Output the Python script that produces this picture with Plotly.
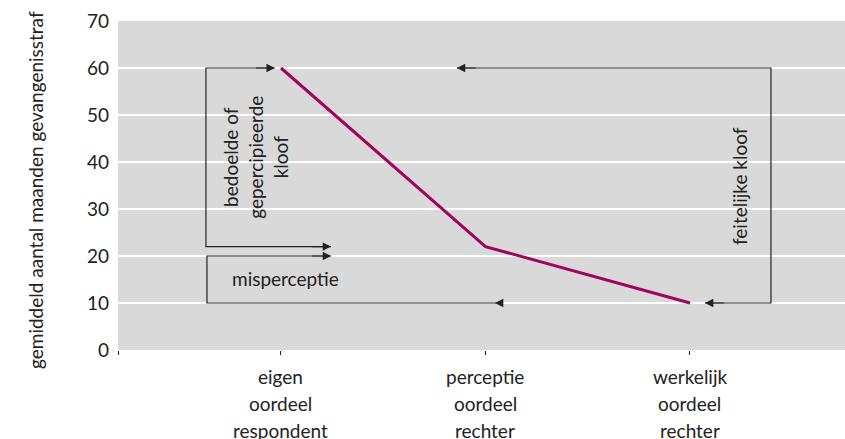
import plotly.graph_objects as go

# ---- data ----
category_lines = [["eigen", "oordeel", "respondent"],
                  ["perceptie", "oordeel", "rechter"],
                  ["werkelijk", "oordeel", "rechter"]]
values = [60, 22, 10]
y_ticks = [0, 10, 20, 30, 40, 50, 60, 70]
y_title = "gemiddeld aantal maanden gevangenisstraf"
label_bedoeld = "bedoelde of<br>gepercipieerde<br>kloof"
label_mis = "misperceptie"
label_feit = "feitelijke kloof"

# bracket polylines (data coords)
bracket_bedoeld_x = [-0.03, -0.367, -0.367, 0.245]
bracket_bedoeld_y = [60, 60, 22, 22]
bracket_mis_x = [0.245, -0.362, -0.362, 1.076]
bracket_mis_y = [20, 20, 10, 10]
bracket_feit_x = [0.86, 2.396, 2.396, 2.073]
bracket_feit_y = [60, 60, 10, 10]

FONT = "Lato"
INK = "#222222"
LINE = "#a0045f"

x_idx = list(range(len(values)))

fig = go.Figure()
fig.add_trace(go.Scatter(x=x_idx, y=values, mode="lines",
                         line=dict(color=LINE, width=3), hoverinfo="skip"))
for bx, by in [(bracket_bedoeld_x, bracket_bedoeld_y),
               (bracket_mis_x, bracket_mis_y),
               (bracket_feit_x, bracket_feit_y)]:
    fig.add_trace(go.Scatter(x=bx, y=by, mode="lines",
                             line=dict(color=INK, width=1.2), hoverinfo="skip"))

def arrow(tip_x, tip_y, tail_x):
    fig.add_annotation(x=tip_x, y=tip_y, ax=tail_x, ay=tip_y,
                       xref="x", yref="y", axref="x", ayref="y",
                       text="", showarrow=True, arrowhead=2, arrowsize=1.4,
                       arrowwidth=1.2, arrowcolor=INK, standoff=0)

# arrowheads
arrow(bracket_bedoeld_x[0], bracket_bedoeld_y[0], bracket_bedoeld_x[0] - 0.1)
arrow(bracket_bedoeld_x[-1], bracket_bedoeld_y[-1], bracket_bedoeld_x[-1] - 0.1)
arrow(bracket_mis_x[0], bracket_mis_y[0], bracket_mis_x[0] - 0.1)
arrow(bracket_mis_x[-1] - 0.03, bracket_mis_y[-1], bracket_mis_x[-1])
arrow(bracket_feit_x[0], bracket_feit_y[0], bracket_feit_x[0] + 0.1)
arrow(bracket_feit_x[-1], bracket_feit_y[-1], bracket_feit_x[-1] + 0.1)

tfont = dict(family=FONT, size=19, color=INK, weight=400)
fig.add_annotation(x=-0.127, y=40.9, text=label_bedoeld, textangle=-90,
                   showarrow=False, font=tfont, xref="x", yref="y")
fig.add_annotation(x=0.024, y=15.3, text=label_mis,
                   showarrow=False, font=tfont, xref="x", yref="y")
fig.add_annotation(x=2.245, y=34.9, text=label_feit, textangle=-90,
                   showarrow=False, font=tfont, xref="x", yref="y")

# category labels, one line per annotation
for i, lines in enumerate(category_lines):
    for j, t in enumerate(lines):
        fig.add_annotation(x=i, y=0, xref="x", yref="paper", text=t,
                           showarrow=False, yanchor="middle",
                           yshift=-26 - 27 * j, font=tfont)

# y title
fig.add_annotation(x=0, y=0.5, xref="paper", yref="paper", text=y_title,
                   textangle=-90, showarrow=False, xshift=-96, yshift=-5,
                   font=tfont)

# small tick at the left end of x axis
fig.add_shape(type="line", xref="paper", yref="paper", x0=0, x1=0, y0=0, y1=0,
              line=dict(color=INK, width=1))

fig.update_layout(
    width=845, height=439,
    margin=dict(l=118, r=0, t=21, b=89, autoexpand=False),
    paper_bgcolor="white", plot_bgcolor="#d9d9d9",
    showlegend=False,
    font=tfont,
    xaxis=dict(range=[-0.797, 2.758], tickvals=[-0.797] + x_idx,
               showticklabels=False, ticks="outside", ticklen=4,
               tickcolor=INK, tickwidth=1, showgrid=False, zeroline=False,
               fixedrange=True),
    yaxis=dict(range=[0, 70], tickvals=y_ticks, showgrid=True,
               gridcolor="white", gridwidth=1.5, zeroline=False,
               ticks="", ticklabelstandoff=8, tickfont=tfont, fixedrange=True),
)

fig.write_html("out.html", config={"displayModeBar": False},
               post_script="document.body.style.margin='0';"
                           "document.body.style.overflow='hidden';")
